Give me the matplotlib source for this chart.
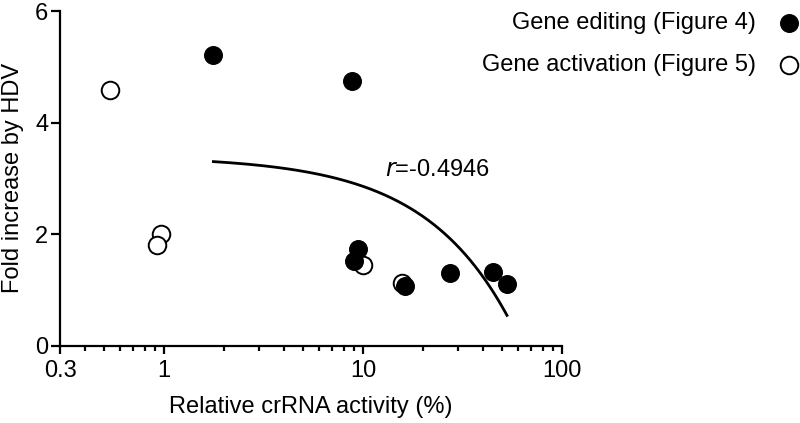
import numpy as np
import matplotlib
matplotlib.use("Agg")
import matplotlib.pyplot as plt
from matplotlib.ticker import FixedLocator, NullFormatter

plt.rcParams['font.family'] = ['Liberation Sans', 'DejaVu Sans']

# Gene editing (Figure 4) - filled circles
edit_x = [1.77, 8.8, 9.43, 8.97, 16.3, 27.4, 44.8, 52.9]
edit_y = [5.21, 4.74, 1.73, 1.51, 1.07, 1.30, 1.32, 1.10]
# Gene activation (Figure 5) - open circles
act_x = [0.534, 0.966, 0.92, 9.96, 15.7]
act_y = [4.58, 2.00, 1.81, 1.44, 1.12]

x_ticks = [0.3, 1, 10, 100]
x_ticklabels = ["0.3", "1", "10", "100"]
y_ticks = [0, 2, 4, 6]
r_text = "-0.4946"

fig = plt.figure(figsize=(8, 4.23), dpi=100)
ax = fig.add_axes([60/800, 1-345.7/423, (562-60)/800, (345.7-11)/423])

lw = 1.6
fs = 17

# linear fit on gene editing data (displayed on log x axis)
b, a = np.polyfit(edit_x, edit_y, 1)
xf = np.linspace(min(edit_x), max(edit_x), 300)
ax.plot(xf, a + b*xf, color='black', lw=2.0, zorder=2)

ax.scatter(act_x, act_y, s=160, facecolor='white', edgecolor='black', linewidths=1.4, zorder=3,
           label='Gene activation (Figure 5)')
ax.scatter(edit_x, edit_y, s=160, facecolor='black', edgecolor='black', linewidths=1.0, zorder=4,
           label='Gene editing (Figure 4)')

ax.set_xscale('log')
ax.set_xlim(0.3, 100)
ax.set_ylim(0, 6)
ax.xaxis.set_major_locator(FixedLocator(x_ticks))
ax.set_xticklabels(x_ticklabels)
minors = [m*10.0**e for e in (-1, 0, 1) for m in range(2, 10) if 0.3 < m*10.0**e < 100]
ax.xaxis.set_minor_locator(FixedLocator(minors))
ax.xaxis.set_minor_formatter(NullFormatter())
ax.set_yticks(y_ticks)

for s in ['top', 'right']:
    ax.spines[s].set_visible(False)
for s in ['left', 'bottom']:
    ax.spines[s].set_linewidth(lw)
ax.tick_params(axis='x', which='major', length=6, width=lw, labelsize=fs, pad=4.5)
ax.tick_params(axis='y', which='major', length=6.5, width=lw, labelsize=fs, pad=2)
ax.tick_params(axis='x', which='minor', length=3.8, width=lw)

ax.set_xlabel('Relative crRNA activity (%)', fontsize=fs, labelpad=10)
ax.set_ylabel('Fold increase by HDV', fontsize=fs, labelpad=8)

ax.text(0.647, 0.525, r'$\it{r}$=' + r_text, transform=ax.transAxes, fontsize=fs,
        ha='left', va='center')

handles, labels = ax.get_legend_handles_labels()
order = [1, 0]
fig.legend([handles[i] for i in order], [labels[i] for i in order],
           loc='upper left', bbox_to_anchor=(482/800, 1-12/423), frameon=False,
           markerfirst=False, fontsize=fs, handlelength=1.0, handletextpad=0.89,
           borderpad=0, borderaxespad=0, labelspacing=0.85)

fig.savefig('out.png', dpi=100)
